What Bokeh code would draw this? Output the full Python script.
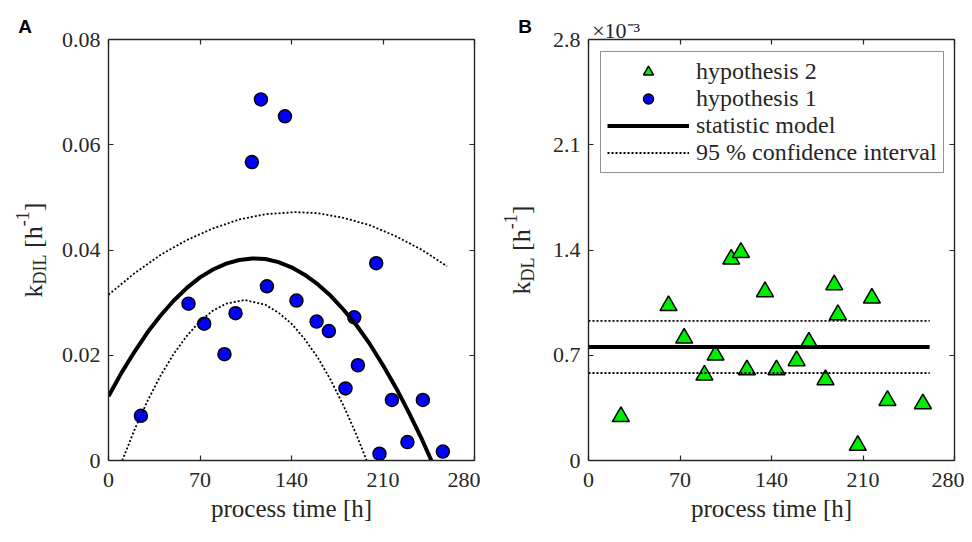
import math
from bokeh.plotting import figure
from bokeh.models import Range1d, FixedTicker, LinearAxis, Legend, LegendItem
from bokeh.core.properties import value
from bokeh.layouts import row
from bokeh.embed import file_html
from bokeh.resources import INLINE

# ---------------- data ----------------
x_ticks = [0, 70, 140, 210, 280]
x_tick_labels = ["0", "70", "140", "210", "280"]

a_y_ticks = [0, 0.02, 0.04, 0.06, 0.08]
a_y_tick_labels = ["0", "0.02", "0.04", "0.06", "0.08"]

b_y_ticks = [0, 0.7, 1.4, 2.1, 2.8]
b_y_tick_labels = ["0", "0.7", "1.4", "2.1", "2.8"]
b_multiplier = "\u00d710\u207b\u00b3"

# Panel A: hypothesis 1 (k_DIL, 1/h)
h1_time = [24.8, 61.2, 73.2, 88.7, 97.2, 109.7, 116.6, 121.2, 135.0, 143.8, 159.2,
           168.6, 181.3, 188.0, 190.8, 204.8, 207.3, 216.8, 228.7, 240.5, 255.8]
h1_kdil = [0.0085, 0.0298, 0.0260, 0.0202, 0.0280, 0.0567, 0.0686, 0.0331, 0.0654, 0.0304, 0.0264,
           0.0246, 0.0137, 0.0272, 0.0181, 0.0375, 0.0013, 0.0115, 0.0035, 0.0115, 0.0017]

# Panel A: statistic model curve
model_a_time = [0, 10, 20, 30, 40, 50, 60, 70, 80, 90, 100, 110, 120, 130, 140, 150,
                160, 170, 180, 190, 200, 210, 220, 230, 240, 247]
model_a_k = [0.0122, 0.0167, 0.0207, 0.0244, 0.0276, 0.0304, 0.0328, 0.0348, 0.0363, 0.0374,
             0.0381, 0.0384, 0.0383, 0.0377, 0.0367, 0.0353, 0.0335, 0.0313, 0.0286, 0.0256,
             0.0221, 0.0181, 0.0138, 0.0090, 0.0039, 0.0]

# Panel A: 95 % confidence interval (upper / lower)
ci_up_a_time = [0, 20, 40, 60, 80, 100, 120, 143, 160, 180, 200, 220, 240, 259]
ci_up_a_k = [0.0315, 0.0356, 0.0391, 0.0419, 0.0441, 0.0458, 0.0468, 0.0472, 0.0470,
             0.0461, 0.0447, 0.0426, 0.0400, 0.0369]
ci_lo_a_time = [10.5, 20, 30, 40, 50, 60, 70, 80, 90, 104, 120, 130, 140, 150, 160,
                170, 180, 190, 197.5]
ci_lo_a_k = [0.0, 0.0059, 0.0114, 0.0162, 0.0203, 0.0237, 0.0265, 0.0285, 0.0298, 0.0305,
             0.0296, 0.0281, 0.0260, 0.0231, 0.0196, 0.0153, 0.0103, 0.0047, 0.0]

# Panel B: hypothesis 2 (k_DL, 1e-3 1/h)
h2_time = [24.8, 61.2, 73.2, 88.7, 97.2, 109.2, 116.6, 121.2, 135.0, 143.8, 159.2,
           168.6, 181.3, 188.0, 190.8, 206.0, 216.8, 228.7, 255.8]
h2_kdl = [0.292, 1.030, 0.814, 0.568, 0.701, 1.339, 1.383, 0.603, 1.122, 0.603, 0.663,
          0.787, 0.537, 1.168, 0.969, 0.100, 1.080, 0.399, 0.377]

# Panel B: statistic model and confidence interval (1e-3 1/h)
b_line_time = [0, 261]
model_b_k = [0.755, 0.755]
ci_up_b_k = [0.928, 0.928]
ci_lo_b_k = [0.582, 0.582]

# ---------------- style ----------------
SERIF = "Liberation Serif"
SANS = "Liberation Sans"
AXC = "#262626"
FW, FH = 366, 421
MAIN_TOP = 39
MAIN_BOTTOM = 74
MULT_POS = 21.2     # x (data) at which the x10^-3 note is centred above panel B


def top_note(p, pos, text, font, size, standoff, style="normal", color=AXC):
    ax = LinearAxis(ticker=FixedTicker(ticks=[pos]), major_label_overrides={pos: text})
    ax.axis_line_color = None
    ax.major_tick_line_color = None
    ax.minor_tick_line_color = None
    ax.major_tick_in = 0
    ax.major_tick_out = 0
    ax.major_label_standoff = standoff
    ax.major_label_text_font = font
    ax.major_label_text_font_size = size
    ax.major_label_text_font_style = style
    ax.major_label_text_color = color
    p.add_layout(ax, "above")


def strip(w):
    # side strip with the same vertical geometry as the main panels; 1 data unit = 1 px
    s = figure(frame_width=w, frame_height=FH, x_range=Range1d(0, w), y_range=Range1d(0, FH),
               min_border_left=0, min_border_right=0, min_border_top=MAIN_TOP,
               min_border_bottom=MAIN_BOTTOM, output_backend="svg", toolbar_location=None,
               outline_line_color=None, x_axis_location=None, y_axis_location=None,
               background_fill_color="white", border_fill_color="white")
    s.xgrid.visible = False
    s.ygrid.visible = False
    return s


def put(s, text, x, y, size, angle=0.0):
    s.text(x=[x], y=[y], text=[text], angle=angle, text_font=value(SERIF),
           text_font_size=value(size), text_color=AXC,
           text_align="left", text_baseline="alphabetic")


def ylabel(s, base_x, start, sub):
    a = math.pi / 2
    sub_w = {"DIL": 30.0, "DL": 24.0}[sub]
    put(s, "k", base_x, start, "26px", a)
    put(s, sub, base_x + 6, start + 13, "18px", a)
    s2 = start + 13 + sub_w + 6.5
    put(s, "[h", base_x, s2, "26px", a)
    put(s, "-1", base_x - 11, s2 + 21.7, "18px", a)
    put(s, "]", base_x, s2 + 36.7, "26px", a)


def make_main(y_end, yticks, ylabels, left, right):
    p = figure(frame_width=FW, frame_height=FH, x_range=Range1d(0, 280),
               y_range=Range1d(0, y_end), output_backend="svg", toolbar_location=None,
               min_border_left=left, min_border_right=right, min_border_top=MAIN_TOP,
               min_border_bottom=MAIN_BOTTOM, background_fill_color="white",
               border_fill_color="white", outline_line_color=None)
    p.xgrid.visible = False
    p.ygrid.visible = False

    def style(ax, ticks, labels, show):
        ax.ticker = FixedTicker(ticks=ticks)
        ax.major_label_overrides = {t: (l if show else "") for t, l in zip(ticks, labels)}
        ax.minor_tick_line_color = None
        ax.major_tick_in = 5
        ax.major_tick_out = 0
        ax.major_tick_line_color = AXC
        ax.major_tick_line_width = 1.2
        ax.axis_line_color = AXC
        ax.axis_line_width = 1.4
        ax.major_label_text_font = SERIF
        ax.major_label_text_font_size = "22px"
        ax.major_label_text_color = AXC
        ax.major_label_standoff = 8

    style(p.xaxis[0], x_ticks, x_tick_labels, True)
    style(p.yaxis[0], yticks, ylabels, True)
    p.xaxis[0].major_label_standoff = 12
    p.xaxis[0].axis_label = "process time [h]"
    p.xaxis[0].axis_label_text_font = SERIF
    p.xaxis[0].axis_label_text_font_size = "25px"
    p.xaxis[0].axis_label_text_font_style = "normal"
    p.xaxis[0].axis_label_text_color = AXC
    p.xaxis[0].axis_label_standoff = 5

    top = LinearAxis()
    style(top, x_ticks, x_tick_labels, False)
    top.major_label_text_font_size = "0px"
    top.major_label_standoff = 0
    p.add_layout(top, "above")
    rgt = LinearAxis()
    style(rgt, yticks, ylabels, False)
    rgt.major_label_text_font_size = "0px"
    rgt.major_label_standoff = 0
    p.add_layout(rgt, "right")
    return p


# ---------------- panel A ----------------
LA_W, A_LEFT, A_RIGHT = 58, 50, 6
la = strip(LA_W)
pa = make_main(0.08, a_y_ticks, a_y_tick_labels, A_LEFT, A_RIGHT)
pa.scatter(h1_time, h1_kdil, marker="circle", size=13, fill_color="#0000ff",
           line_color="black", line_width=1.5)
pa.line(model_a_time, model_a_k, line_color="black", line_width=4)
pa.line(ci_up_a_time, ci_up_a_k, line_color="black", line_width=1.8, line_dash="2 2")
pa.line(ci_lo_a_time, ci_lo_a_k, line_color="black", line_width=1.8, line_dash="2 2")
ylabel(la, 33, FH / 2 - 47.4, "DIL")
top_note(la, 24.5, "A", SANS, "19px", 3, "bold", "black")

# ---------------- panel B ----------------
LB_W, B_LEFT, B_RIGHT = 64, 44, 10
lb = strip(LB_W)
pb = make_main(2.8, b_y_ticks, b_y_tick_labels, B_LEFT, B_RIGHT)
r_h2 = pb.scatter(h2_time, h2_kdl, marker="triangle", size=17, fill_color="#00ee00",
                  line_color="black", line_width=1.5)
r_h1 = pb.scatter([float("nan")], [float("nan")], marker="circle", size=13,
                  fill_color="#0000ff", line_color="black", line_width=1.5)
r_mod = pb.line(b_line_time, model_b_k, line_color="black", line_width=4)
r_ci = pb.line(b_line_time, ci_up_b_k, line_color="black", line_width=1.8, line_dash="2 2")
pb.line(b_line_time, ci_lo_b_k, line_color="black", line_width=1.8, line_dash="2 2")
ylabel(lb, 41, FH / 2 - 44.4, "DL")
top_note(lb, 44.5, "B", SANS, "19px", 3, "bold", "black")
top_note(pb, MULT_POS, b_multiplier, SERIF, "22px", -3)

legend = Legend(items=[LegendItem(label="hypothesis 2", renderers=[r_h2]),
                       LegendItem(label="hypothesis 1", renderers=[r_h1]),
                       LegendItem(label="statistic model", renderers=[r_mod]),
                       LegendItem(label="95 % confidence interval", renderers=[r_ci])],
                location="top_left")
legend.margin = 12
legend.padding = 6
legend.spacing = 0
legend.glyph_width = 82
legend.glyph_height = 25
legend.label_height = 25
legend.label_standoff = 7
legend.label_text_font = SERIF
legend.label_text_font_size = "24px"
legend.label_text_color = AXC
legend.border_line_color = AXC
legend.border_line_width = 1.5
legend.background_fill_color = "white"
legend.background_fill_alpha = 1.0
pb.add_layout(legend)

layout = row(la, pa, lb, pb)
open("out.html", "w").write(file_html(layout, INLINE))
